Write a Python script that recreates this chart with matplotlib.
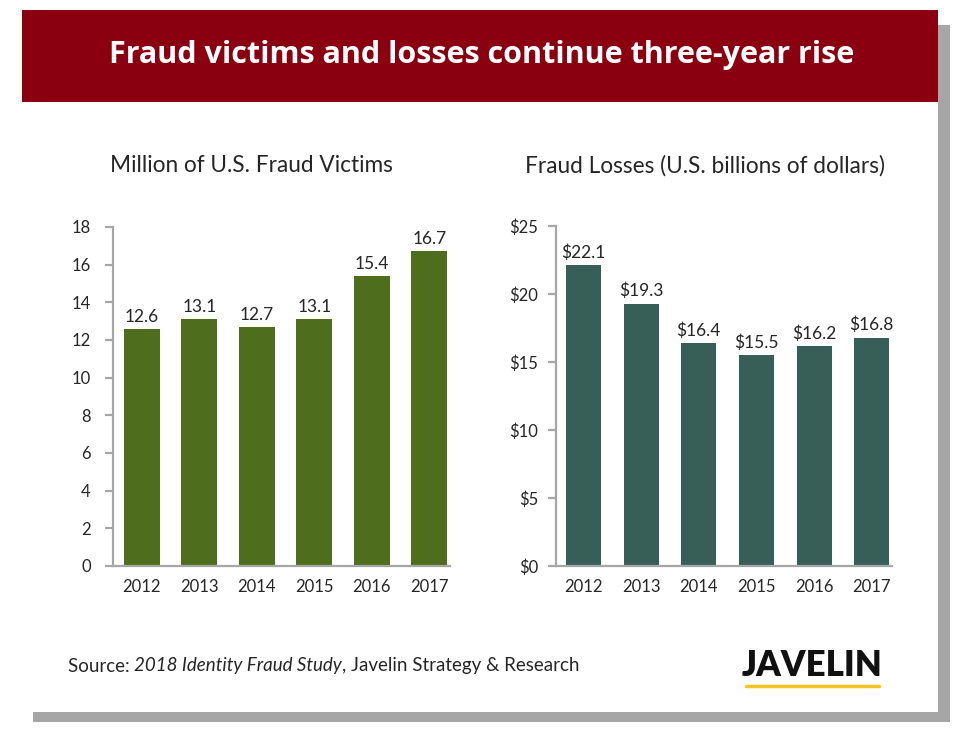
import matplotlib
matplotlib.use('Agg')
import matplotlib.pyplot as plt
from matplotlib.patches import Rectangle
from matplotlib.lines import Line2D

# 資料
years = ['2012', '2013', '2014', '2015', '2016', '2017']
victims = [12.6, 13.1, 12.7, 13.1, 15.4, 16.7]
losses = [22.1, 19.3, 16.4, 15.5, 16.2, 16.8]
victim_ticks = [0, 2, 4, 6, 8, 10, 12, 14, 16, 18]
loss_ticks = [0, 5, 10, 15, 20, 25]

W, H = 975, 746
plt.rcParams['font.family'] = ['Lato', 'DejaVu Sans']

fig = plt.figure(figsize=(W / 100, H / 100), dpi=100)
fig.patch.set_facecolor('white')


def px_rect(x0, y0, x1, y1, color, z):
    fig.add_artist(Rectangle((x0 / W, 1 - y1 / H), (x1 - x0) / W, (y1 - y0) / H,
                             transform=fig.transFigure, facecolor=color,
                             edgecolor='none', zorder=z))


# 陰影、卡片、標題橫幅
px_rect(33, 25, 950, 722, '#a6a6a6', -12)
px_rect(22, 10, 938, 712, 'white', -11)
px_rect(22, 10, 938, 102, '#8a0011', -10)

fig.text(482 / W, 1 - 55 / H, 'Fraud victims and losses continue three-year rise',
         color='white', fontsize=22, fontweight='bold', family=['Open Sans', 'DejaVu Sans'],
         ha='center', va='center')

spine_col = '#a6a6a6'
text_col = '#262626'


def style_axes(ax, pad):
    ax.set_facecolor('none')
    for s in ['top', 'right']:
        ax.spines[s].set_visible(False)
    for s in ['left', 'bottom']:
        ax.spines[s].set_color(spine_col)
        ax.spines[s].set_linewidth(1.6)
    ax.tick_params(axis='y', length=6, width=1.6, color=spine_col, pad=pad,
                   labelsize=12, labelcolor=text_col)
    ax.tick_params(axis='x', length=0, pad=9, labelsize=12, labelcolor=text_col)


# 左圖: 受害人數
ax1 = fig.add_axes([113 / W, 1 - 566 / H, (450 - 113) / W, (566 - 227) / H])
ax1.bar(range(len(years)), victims, width=0.62, color='#4e6e1d', zorder=2)
ax1.set_xlim(-0.5, 5.36)
ax1.set_ylim(0, 18)
ax1.set_yticks(victim_ticks)
ax1.set_xticks(range(len(years)))
ax1.set_xticklabels(years)
style_axes(ax1, 10)
for i, v in enumerate(victims):
    ax1.annotate(f'{v:.1f}', (i, v), xytext=(0, 3), textcoords='offset points',
                 ha='center', va='bottom', fontsize=12.5, color=text_col)

# 右圖: 詐騙損失
ax2 = fig.add_axes([556 / W, 1 - 566 / H, (892 - 556) / W, (566 - 226) / H])
ax2.bar(range(len(years)), losses, width=0.61, color='#385e58', zorder=2)
ax2.set_xlim(-0.477, 5.35)
ax2.set_ylim(0, 25)
ax2.set_yticks(loss_ticks)
ax2.set_yticklabels([f'${t}' for t in loss_ticks])
ax2.set_xticks(range(len(years)))
ax2.set_xticklabels(years)
style_axes(ax2, 7)
for i, v in enumerate(losses):
    ax2.annotate(f'${v:.1f}', (i, v), xytext=(0, 3), textcoords='offset points',
                 ha='center', va='bottom', fontsize=12.5, color=text_col)

fig.text(251 / W, 1 - 166 / H, 'Million of U.S. Fraud Victims', fontsize=16.3,
         color=text_col, ha='center', va='center')
fig.text(705 / W, 1 - 166 / H, 'Fraud Losses (U.S. billions of dollars)', fontsize=16.3,
         color=text_col, ha='center', va='center')

# 資料來源（部分斜體）
fig.canvas.draw()
renderer = fig.canvas.get_renderer()
x = 68 / W
y = 1 - 666 / H
for part, style in [('Source: ', 'normal'), ('2018 Identity Fraud Study', 'italic'),
                    (', Javelin Strategy & Research', 'normal')]:
    t = fig.text(x, y, part, fontsize=13.5, style=style, color=text_col,
                 ha='left', va='center')
    bb = t.get_window_extent(renderer)
    x += bb.width / W

# JAVELIN 標誌
fig.text(812 / W, 1 - 665 / H, 'JAVELIN', fontsize=25, fontweight='heavy',
         color='#111111', ha='center', va='center')
fig.add_artist(Line2D([746 / W, 879 / W], [1 - 686 / H, 1 - 686 / H],
                      transform=fig.transFigure, color='#f5c421', linewidth=2.5,
                      solid_capstyle='round'))

fig.savefig('out.png', dpi=100)
